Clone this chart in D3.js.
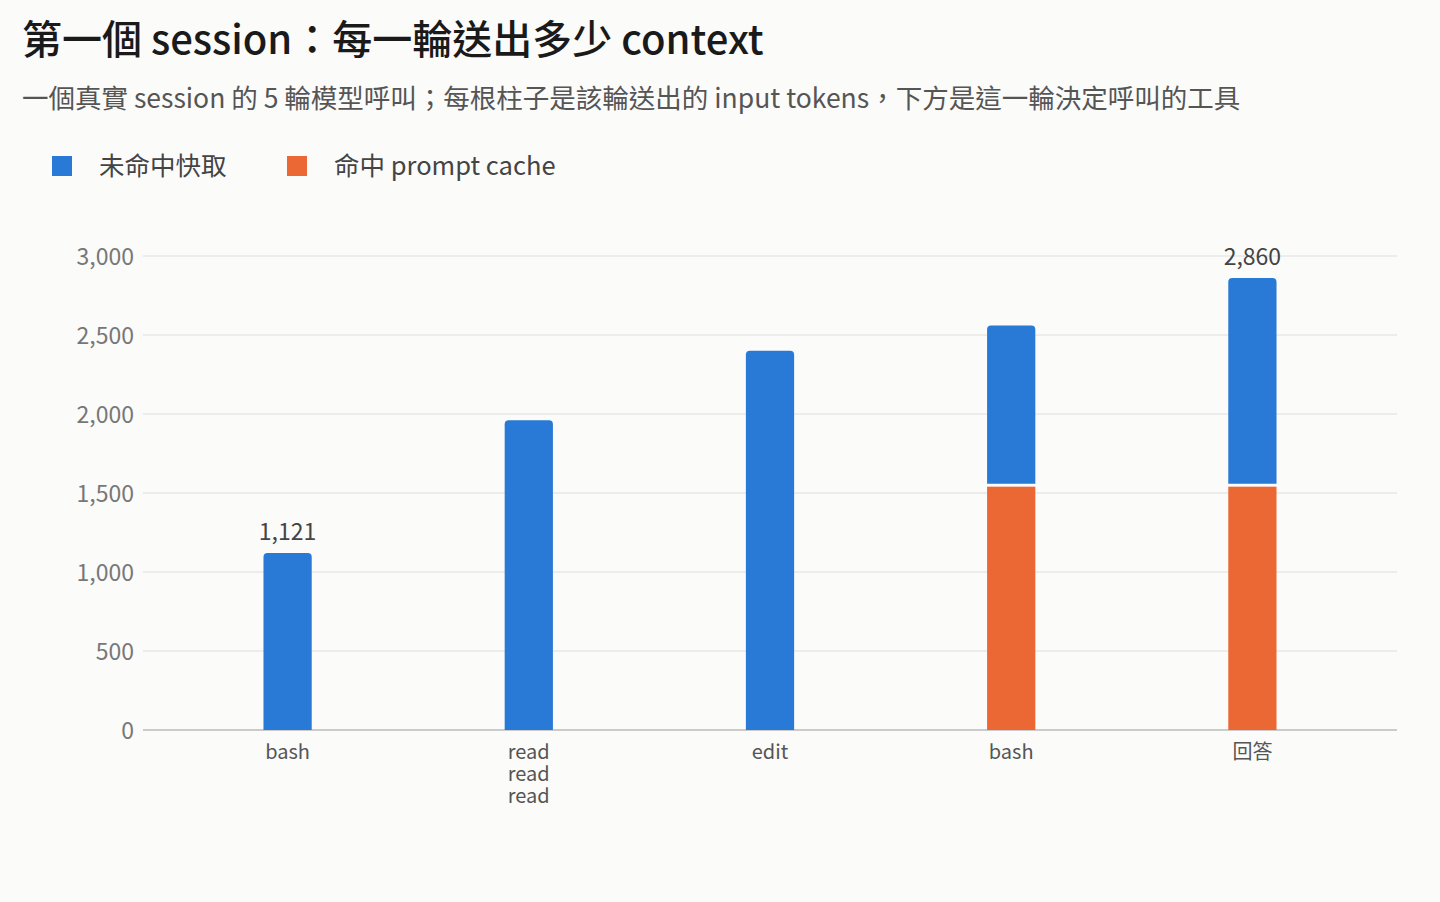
<!DOCTYPE html>
<html>
<head>
<meta charset="utf-8">
<script src="https://cdn.jsdelivr.net/npm/d3@7"></script>
<style>
  body { margin: 0; background: #fbfbfa; font-family: "Noto Sans CJK TC", "Noto Sans", sans-serif; }
</style>
</head>
<body>
<div id="chart"></div>
<script>

const rounds = ["r1", "r2", "r3", "r4", "r5"];
const toolLabels = [["bash"], ["read", "read", "read"], ["edit"], ["bash"], ["回答"]];
const uncached = [1121, 1960, 2400, 1020, 1320];
const cached = [0, 0, 0, 1540, 1540];
const totalLabels = ["1,121", null, null, null, "2,860"];
const yTicks = [0, 500, 1000, 1500, 2000, 2500, 3000];

const blue = "#2979d6", orange = "#eb6834";

const W = 1440, H = 902;
const svg = d3.select("#chart").append("svg").attr("width", W).attr("height", H);

svg.append("text").attr("x", 22).attr("y", 54)
  .style("font-size", "40px").style("font-weight", 500).attr("fill", "#1a1a1a")
  .text("第一個 session：每一輪送出多少 context");
svg.append("text").attr("x", 22).attr("y", 108)
  .style("font-size", "26.5px").attr("fill", "#555")
  .text("一個真實 session 的 5 輪模型呼叫；每根柱子是該輪送出的 input tokens，下方是這一輪決定呼叫的工具");

const legend = [["未命中快取", blue, 52], ["命中 prompt cache", orange, 287]];
legend.forEach(([t, c, x]) => {
  svg.append("rect").attr("x", x).attr("y", 156).attr("width", 20).attr("height", 20).attr("fill", c);
  svg.append("text").attr("x", x + 47).attr("y", 175).style("font-size", "25.5px").attr("fill", "#444").text(t);
});

const x = d3.scaleBand().domain(rounds).range([167, 1373]).paddingInner(0.8).paddingOuter(0.4);
const y = d3.scaleLinear().domain([0, 3000]).range([730, 256]);

svg.append("g").selectAll("line").data(yTicks).join("line")
  .attr("x1", 143).attr("x2", 1397)
  .attr("y1", d => y(d)).attr("y2", d => y(d))
  .attr("stroke", d => d === 0 ? "#bbb" : "#dedede").attr("stroke-width", d => d === 0 ? 1.5 : 1);

svg.append("g").selectAll("text").data(yTicks).join("text")
  .attr("x", 134).attr("y", d => y(d) + 9).attr("text-anchor", "end")
  .style("font-size", "23px").attr("fill", "#777")
  .text(d => d3.format(",")(d));

const r = 4;
function roundTop(x0, y0, w, h) {
  return `M${x0},${y0 + h}V${y0 + r}Q${x0},${y0} ${x0 + r},${y0}H${x0 + w - r}Q${x0 + w},${y0} ${x0 + w},${y0 + r}V${y0 + h}Z`;
}

rounds.forEach((k, i) => {
  const bx = x(k), bw = x.bandwidth();
  if (cached[i] > 0) {
    svg.append("rect").attr("x", bx).attr("width", bw)
      .attr("y", y(cached[i])).attr("height", y(0) - y(cached[i])).attr("fill", orange);
  }
  const top = cached[i] + uncached[i];
  const base = cached[i] > 0 ? y(cached[i]) - 3 : y(0);
  svg.append("path").attr("d", roundTop(bx, y(top), bw, base - y(top))).attr("fill", blue);
  if (totalLabels[i]) {
    svg.append("text").attr("x", bx + bw / 2).attr("y", y(top) - 13).attr("text-anchor", "middle")
      .style("font-size", "23px").attr("fill", "#444").text(totalLabels[i]);
  }
  toolLabels[i].forEach((t, j) => {
    svg.append("text").attr("x", bx + bw / 2).attr("y", 759 + j * 22).attr("text-anchor", "middle")
      .style("font-size", "20px").attr("fill", "#555").text(t);
  });
});

</script>
</body>
</html>
